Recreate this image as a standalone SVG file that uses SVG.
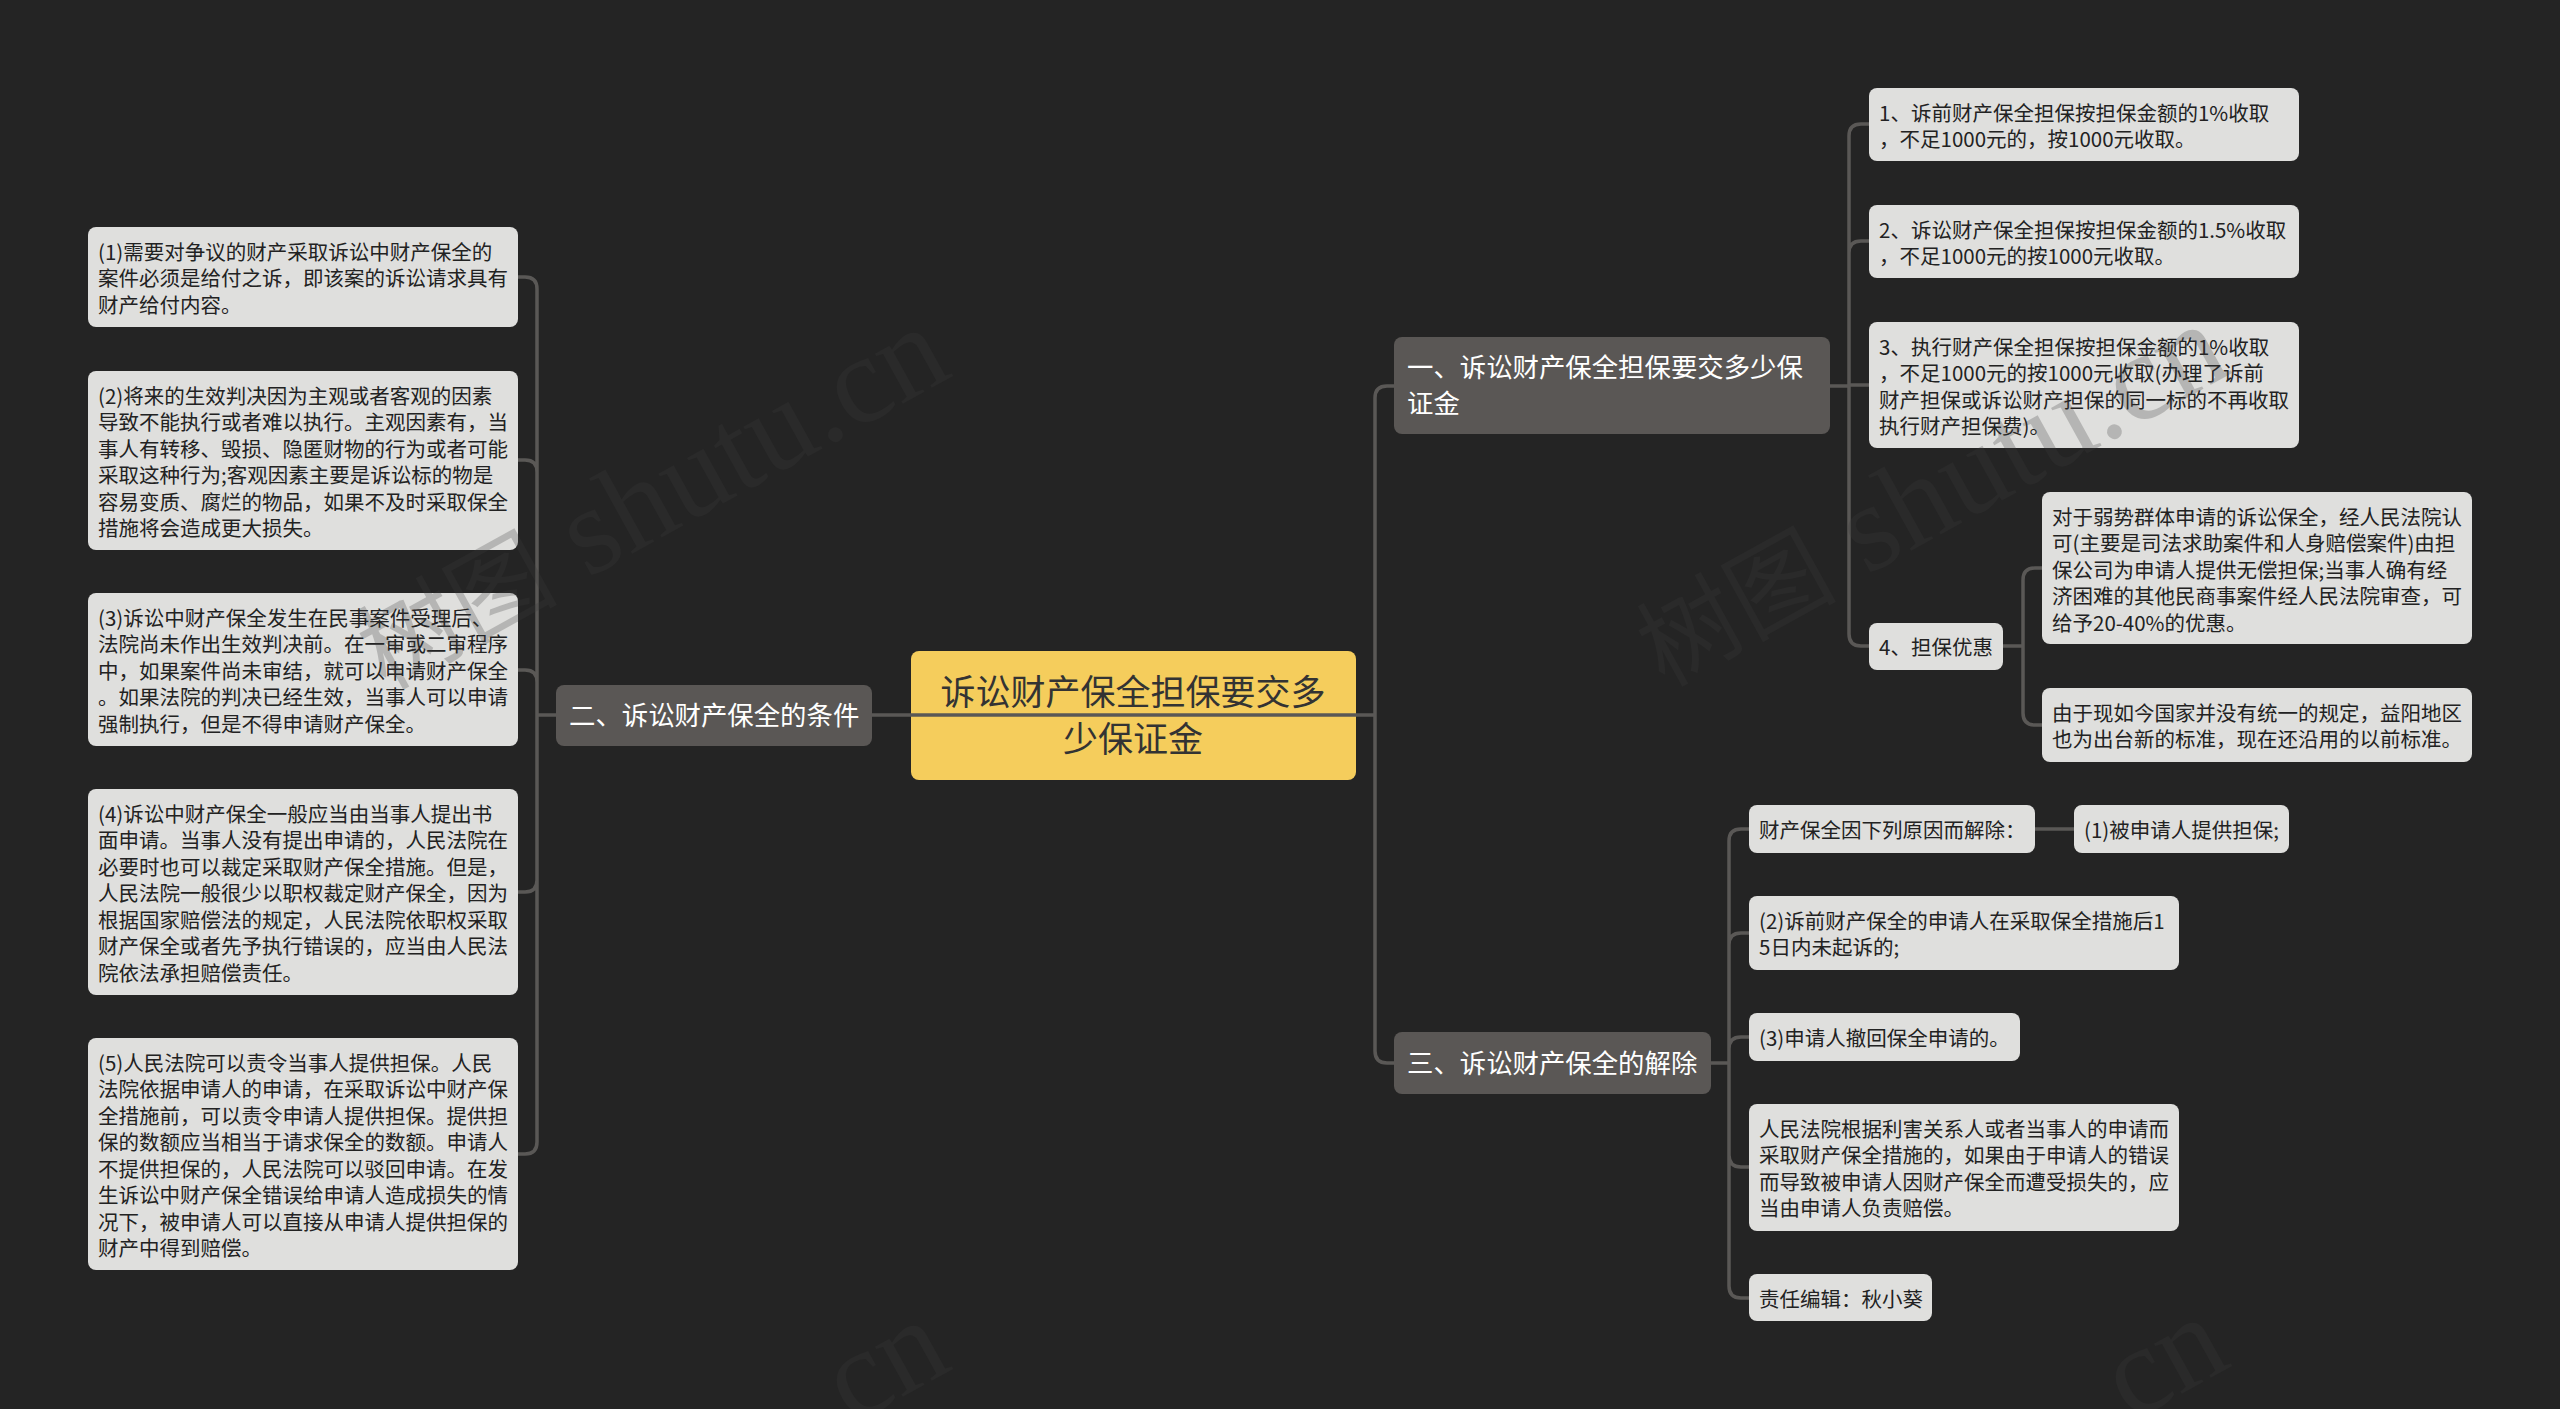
<svg xmlns="http://www.w3.org/2000/svg" width="2560" height="1409" viewBox="0 0 2560 1409">
<style>
.leaf rect{fill:#dfdfdd}
.leaf text{font-size:20.5px;fill:#222;transform:translateY(.8px)}
.branch rect{fill:#5a5755}
.branch text{font-size:26.4px;fill:#fff}
.root rect{fill:#f5cd5c}
.root text{font-size:35px;fill:#333;text-anchor:middle;transform:translateY(1px)}
text{font-family:"Noto Sans CJK SC","Noto Sans",sans-serif}
.conn path{fill:none;stroke:#5a5856;stroke-width:3.5}
.wm text{font-size:125px;font-family:"Liberation Serif","Noto Sans CJK SC",serif;fill:#3c3c3c;opacity:.25;text-anchor:end}
.wm tspan{font-size:100px}
</style>
<rect width="2560" height="1409" fill="#242424"/>
<g id="root" class="root"><rect x="911" y="651" width="445" height="129" rx="8"/><text x="1133" y="704">诉讼财产保全担保要交多</text><text x="1133" y="751">少保证金</text></g>
<g id="connectors" class="conn">
<path d="M872 715H1356"/>
<path d="M1356 715H1375M1394 386H1387Q1375 386 1375 398V1051Q1375 1063 1387 1063H1394"/>
<path d="M556 715H537M518 277H525Q537 277 537 289V1142Q537 1154 525 1154H518M518 460H525Q537 460 537 472M518 670H525Q537 670 537 682M518 892H525Q537 892 537 880"/>
<path d="M1830 386H1849M1869 124H1861Q1849 124 1849 136V634Q1849 646 1861 646H1869M1869 241H1861Q1849 241 1849 253M1849 385H1869"/>
<path d="M2003 646H2023M2042 568H2035Q2023 568 2023 580V713Q2023 725 2035 725H2042"/>
<path d="M1711 1063H1729M1749 829H1741Q1729 829 1729 841V1286Q1729 1298 1741 1298H1749M1749 933H1741Q1729 933 1729 945M1749 1037H1741Q1729 1037 1729 1049M1749 1167H1741Q1729 1167 1729 1155"/>
<path d="M2035 829H2074"/>
</g>
<g id="b2" class="branch"><rect x="556" y="685" width="316" height="61" rx="8"/><text x="569" y="725">二、诉讼财产保全的条件</text></g>
<g id="b1" class="branch"><rect x="1394" y="337" width="436" height="97" rx="8"/><text x="1407" y="377">一、诉讼财产保全担保要交多少保</text><text x="1407" y="413">证金</text></g>
<g id="b3" class="branch"><rect x="1394" y="1032" width="317" height="62" rx="8"/><text x="1407" y="1073">三、诉讼财产保全的解除</text></g>
<g id="l1" class="leaf"><rect x="88" y="227" width="430" height="100" rx="8"/><text x="98" y="259">(1)需要对争议的财产采取诉讼中财产保全的</text><text x="98" y="285">案件必须是给付之诉，即该案的诉讼请求具有</text><text x="98" y="312">财产给付内容。</text></g>
<g id="l2" class="leaf"><rect x="88" y="371" width="430" height="179" rx="8"/><text x="98" y="403">(2)将来的生效判决因为主观或者客观的因素</text><text x="98" y="429">导致不能执行或者难以执行。主观因素有，当</text><text x="98" y="456">事人有转移、毁损、隐匿财物的行为或者可能</text><text x="98" y="482">采取这种行为;客观因素主要是诉讼标的物是</text><text x="98" y="509">容易变质、腐烂的物品，如果不及时采取保全</text><text x="98" y="535">措施将会造成更大损失。</text></g>
<g id="l3" class="leaf"><rect x="88" y="593" width="430" height="153" rx="8"/><text x="98" y="625">(3)诉讼中财产保全发生在民事案件受理后、</text><text x="98" y="651">法院尚未作出生效判决前。在一审或二审程序</text><text x="98" y="678">中，如果案件尚未审结，就可以申请财产保全</text><text x="98" y="704">。如果法院的判决已经生效，当事人可以申请</text><text x="98" y="731">强制执行，但是不得申请财产保全。</text></g>
<g id="l4" class="leaf"><rect x="88" y="789" width="430" height="206" rx="8"/><text x="98" y="821">(4)诉讼中财产保全一般应当由当事人提出书</text><text x="98" y="847">面申请。当事人没有提出申请的，人民法院在</text><text x="98" y="874">必要时也可以裁定采取财产保全措施。但是，</text><text x="98" y="900">人民法院一般很少以职权裁定财产保全，因为</text><text x="98" y="927">根据国家赔偿法的规定，人民法院依职权采取</text><text x="98" y="953">财产保全或者先予执行错误的，应当由人民法</text><text x="98" y="980">院依法承担赔偿责任。</text></g>
<g id="l5" class="leaf"><rect x="88" y="1038" width="430" height="232" rx="8"/><text x="98" y="1070">(5)人民法院可以责令当事人提供担保。人民</text><text x="98" y="1096">法院依据申请人的申请，在采取诉讼中财产保</text><text x="98" y="1123">全措施前，可以责令申请人提供担保。提供担</text><text x="98" y="1149">保的数额应当相当于请求保全的数额。申请人</text><text x="98" y="1176">不提供担保的，人民法院可以驳回申请。在发</text><text x="98" y="1202">生诉讼中财产保全错误给申请人造成损失的情</text><text x="98" y="1229">况下，被申请人可以直接从申请人提供担保的</text><text x="98" y="1255">财产中得到赔偿。</text></g>
<g id="r1" class="leaf"><rect x="1869" y="88" width="430" height="73" rx="8"/><text x="1879" y="120">1、诉前财产保全担保按担保金额的1%收取</text><text x="1879" y="146">，不足1000元的，按1000元收取。</text></g>
<g id="r2" class="leaf"><rect x="1869" y="205" width="430" height="73" rx="8"/><text x="1879" y="237">2、诉讼财产保全担保按担保金额的1.5%收取</text><text x="1879" y="263">，不足1000元的按1000元收取。</text></g>
<g id="r3" class="leaf"><rect x="1869" y="322" width="430" height="126" rx="8"/><text x="1879" y="354">3、执行财产保全担保按担保金额的1%收取</text><text x="1879" y="380">，不足1000元的按1000元收取(办理了诉前</text><text x="1879" y="407">财产担保或诉讼财产担保的同一标的不再收取</text><text x="1879" y="433">执行财产担保费)。</text></g>
<g id="r4" class="leaf"><rect x="1869" y="623" width="134" height="47" rx="8"/><text x="1879" y="654">4、担保优惠</text></g>
<g id="r4a" class="leaf"><rect x="2042" y="492" width="430" height="152" rx="8"/><text x="2052" y="524">对于弱势群体申请的诉讼保全，经人民法院认</text><text x="2052" y="550">可(主要是司法求助案件和人身赔偿案件)由担</text><text x="2052" y="577">保公司为申请人提供无偿担保;当事人确有经</text><text x="2052" y="603">济困难的其他民商事案件经人民法院审查，可</text><text x="2052" y="630">给予20-40%的优惠。</text></g>
<g id="r4b" class="leaf"><rect x="2042" y="688" width="430" height="74" rx="8"/><text x="2052" y="720">由于现如今国家并没有统一的规定，益阳地区</text><text x="2052" y="746">也为出台新的标准，现在还沿用的以前标准。</text></g>
<g id="s1" class="leaf"><rect x="1749" y="805" width="286" height="48" rx="8"/><text x="1759" y="837">财产保全因下列原因而解除：</text></g>
<g id="s1a" class="leaf"><rect x="2074" y="805" width="215" height="48" rx="8"/><text x="2084" y="837">(1)被申请人提供担保;</text></g>
<g id="s2" class="leaf"><rect x="1749" y="896" width="430" height="74" rx="8"/><text x="1759" y="928">(2)诉前财产保全的申请人在采取保全措施后1</text><text x="1759" y="954">5日内未起诉的;</text></g>
<g id="s3" class="leaf"><rect x="1749" y="1013" width="271" height="48" rx="8"/><text x="1759" y="1045">(3)申请人撤回保全申请的。</text></g>
<g id="s4" class="leaf"><rect x="1749" y="1104" width="430" height="127" rx="8"/><text x="1759" y="1136">人民法院根据利害关系人或者当事人的申请而</text><text x="1759" y="1162">采取财产保全措施的，如果由于申请人的错误</text><text x="1759" y="1189">而导致被申请人因财产保全而遭受损失的，应</text><text x="1759" y="1215">当由申请人负责赔偿。</text></g>
<g id="s5" class="leaf"><rect x="1749" y="1274" width="183" height="47" rx="8"/><text x="1759" y="1306">责任编辑：秋小葵</text></g>
<g id="watermark" class="wm">
<text transform="translate(955 375) rotate(-29)"><tspan>树图</tspan> shutu.cn</text>
<text transform="translate(2234 372) rotate(-29)"><tspan>树图</tspan> shutu.cn</text>
<text transform="translate(955 1368) rotate(-29)">cn</text>
<text transform="translate(2234 1365) rotate(-29)">cn</text>
</g>
</svg>
